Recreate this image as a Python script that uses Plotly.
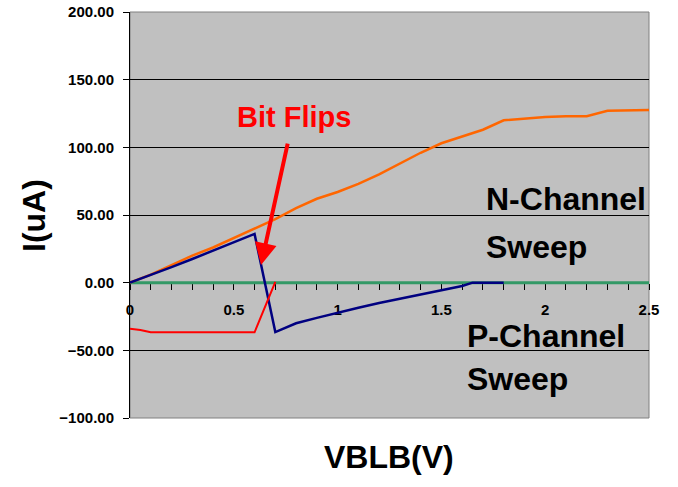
import plotly.graph_objects as go

# ---- data ----
vblb = [0.0, 0.1, 0.2, 0.3, 0.4, 0.5, 0.6, 0.7, 0.8, 0.9, 1.0, 1.1, 1.2,
        1.3, 1.4, 1.5, 1.6, 1.7, 1.8, 1.9, 2.0, 2.1, 2.2, 2.3, 2.4, 2.5]
orange_ua = [0, 6, 13, 20, 26, 33, 40, 47, 55, 62, 67, 73, 80,
             88, 96, 103, 108, 113, 120, 121.5, 122.5, 123, 123, 127, 127.5, 127.5]

blue_v = [0.0, 0.1, 0.2, 0.3, 0.4, 0.5, 0.6, 0.7, 0.8, 0.9, 1.0, 1.1, 1.2,
          1.3, 1.4, 1.5, 1.6, 1.65, 1.8]
blue_ua = [0, 5.5, 11.5, 17.5, 23.5, 30, 36, -36.5, -30, -26, -22, -18.5, -15,
           -12, -9, -5.7, -2.5, 0, 0]

red_v = [0.0, 0.05, 0.1, 0.2, 0.3, 0.4, 0.5, 0.6, 0.7]
red_ua = [-34, -35, -36.7, -36.7, -36.7, -36.7, -36.7, -36.7, 0.5]

green_v = [0.0, 2.5]
green_ua = [0, 0]

y_ticks = [-100, -50, 0, 50, 100, 150, 200]

# ---- layout helpers (pixel -> paper) ----
W, H = 678, 487
L, R, T, B = 130, 649, 12, 418
def px(xp, yp):
    return (xp - L) / (R - L), (B - yp) / (B - T)

FONT = "Liberation Sans, Arial, sans-serif"

fig = go.Figure()
fig.add_trace(go.Scatter(x=green_v, y=green_ua, mode="lines",
                         line=dict(color="#339966", width=3)))
fig.add_trace(go.Scatter(x=vblb, y=orange_ua, mode="lines",
                         line=dict(color="#ff6600", width=2.5)))
fig.add_trace(go.Scatter(x=blue_v, y=blue_ua, mode="lines",
                         line=dict(color="#000080", width=2.5)))
fig.add_trace(go.Scatter(x=red_v, y=red_ua, mode="lines",
                         line=dict(color="#ff0000", width=2)))

tickfont = dict(family=FONT, size=15, color="black", weight="bold")

fig.update_layout(
    width=W, height=H,
    margin=dict(l=L, r=W - R, t=T, b=H - B, autoexpand=False),
    paper_bgcolor="white", plot_bgcolor="#c0c0c0",
    showlegend=False,
    xaxis=dict(range=[0, 2.5], anchor="free", position=1/3, automargin=False,
               showline=True, linecolor="black", linewidth=1, layer="below traces",
               ticks="outside", ticklen=6, tickcolor="black", tickwidth=1,
               tick0=0, dtick=0.5, showgrid=False, zeroline=False,
               tickfont=tickfont, ticklabelstandoff=7, ticklabeloverflow="allow",
               minor=dict(dtick=0.1, ticks="outside", ticklen=6,
                          tickcolor="black", showgrid=False)),
    yaxis=dict(range=[-100, 200], tickvals=y_ticks, tickformat=".2f", automargin=False,
               showline=True, linecolor="black", linewidth=1,
               ticks="outside", ticklen=6, tickcolor="black",
               showgrid=True, gridcolor="black", gridwidth=1,
               zeroline=False, tickfont=tickfont, ticklabelstandoff=6,
               ticklabeloverflow="allow"),
)

# plot area border (gray)
fig.add_shape(type="rect", xref="paper", yref="paper", x0=0, x1=1, y0=0, y1=1,
              line=dict(color="#808080", width=1), layer="below")

def text(s, xp, yp, size, color="black", xanchor="left"):
    x, y = px(xp, yp)
    fig.add_annotation(text=s, x=x, y=y, xref="paper", yref="paper",
                       showarrow=False, xanchor=xanchor, yanchor="middle",
                       font=dict(family=FONT, size=size, color=color, weight="bold"))

text("Bit Flips", 294, 117, 29, color="#ff0000", xanchor="center")
text("N-Channel", 484, 199, 32)
text("Sweep", 484, 247, 32)
text("P-Channel", 465, 336, 32)
text("Sweep", 465, 379, 32)

# arrow
fig.add_annotation(x=0.631, y=13, xref="x", yref="y", ax=27, ay=-123,
                   axref="pixel", ayref="pixel", text="", showarrow=True,
                   arrowhead=2, arrowsize=1.1, arrowwidth=4, arrowcolor="#ff0000")

# axis titles
x, y = px(389, 457)
fig.add_annotation(text="VBLB(V)", x=x, y=y, xref="paper", yref="paper",
                   showarrow=False, xanchor="center", yanchor="middle",
                   font=dict(family=FONT, size=32, color="black", weight="bold"))
x, y = px(34, 216)
fig.add_annotation(text="I(uA)", x=x, y=y, xref="paper", yref="paper",
                   showarrow=False, xanchor="center", yanchor="middle", textangle=-90,
                   font=dict(family=FONT, size=32, color="black", weight="bold"))

fig.write_html("out.html", config={"displayModeBar": False},
               post_script="document.body.style.margin='0';document.body.style.overflow='hidden';")
